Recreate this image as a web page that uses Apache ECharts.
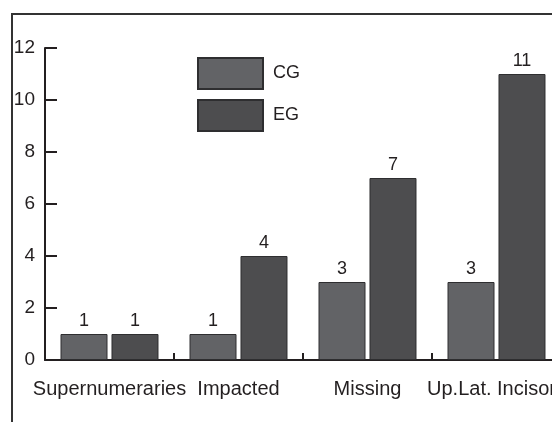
<!DOCTYPE html>
<html>
<head>
<meta charset="utf-8">
<script src="https://cdn.jsdelivr.net/npm/echarts@6/dist/echarts.min.js"></script>
<style>
html,body{margin:0;padding:0;background:#fff;}
#c{width:552px;height:422px;}
</style>
</head>
<body>
<div id="c"></div>
<script>
var categories = ['Supernumeraries', 'Impacted', 'Missing', 'Up.Lat. Incisors'];
var seriesNames = ['CG', 'EG'];
var cgValues = [1, 1, 3, 3];
var egValues = [1, 4, 7, 11];
var yTicks = [0, 2, 4, 6, 8, 10, 12];

var FONT = '"Liberation Sans", Arial, sans-serif';
var INK = '#231f20';

var chart = echarts.init(document.getElementById('c'), null, {renderer: 'canvas'});
var labelCfg = {show: true, position: 'top', distance: 4, fontSize: 18, color: INK, fontFamily: FONT};
chart.setOption({
  animation: false,
  backgroundColor: '#fff',
  graphic: [{
    type: 'rect',
    shape: {x: 12, y: 14, width: 700, height: 600},
    style: {fill: null, stroke: '#333', lineWidth: 2},
    silent: true
  }],
  legend: {
    orient: 'vertical',
    left: 197, top: 57,
    padding: 0,
    itemWidth: 65, itemHeight: 31, itemGap: 9,
    icon: 'rect',
    textStyle: {fontSize: 18, color: INK, fontFamily: FONT, padding: [0, 0, 0, 5]},
    data: seriesNames
  },
  grid: {left: 45, top: 48, width: 516, height: 312, containLabel: false, outerBoundsMode: 'none'},
  xAxis: {
    type: 'category',
    data: categories,
    axisLine: {lineStyle: {color: INK, width: 2}},
    axisTick: {show: true, inside: true, length: 7, lineStyle: {color: INK, width: 2}},
    axisLabel: {fontSize: 20, color: INK, fontFamily: FONT, margin: 19, interval: 0, hideOverlap: false},
    splitLine: {show: false}
  },
  yAxis: {
    type: 'value',
    min: 0, max: 12, interval: 2,
    axisLine: {show: true, lineStyle: {color: INK, width: 2}},
    axisTick: {show: true, inside: true, length: 12, lineStyle: {color: INK, width: 2}},
    axisLabel: {fontSize: 19, color: INK, fontFamily: FONT, margin: 10,
      formatter: function (v) { return yTicks.indexOf(v) >= 0 ? String(v) : ''; }},
    splitLine: {show: false}
  },
  series: [{
    name: seriesNames[0], type: 'bar', data: cgValues,
    barWidth: 47, barGap: '8.5%',
    itemStyle: {color: '#626366', borderColor: '#2e2e30', borderWidth: 1},
    label: labelCfg
  }, {
    name: seriesNames[1], type: 'bar', data: egValues,
    barWidth: 47, barGap: '8.5%',
    itemStyle: {color: '#4d4d4f', borderColor: '#2e2e30', borderWidth: 1},
    label: labelCfg
  }]
});
</script>
</body>
</html>
